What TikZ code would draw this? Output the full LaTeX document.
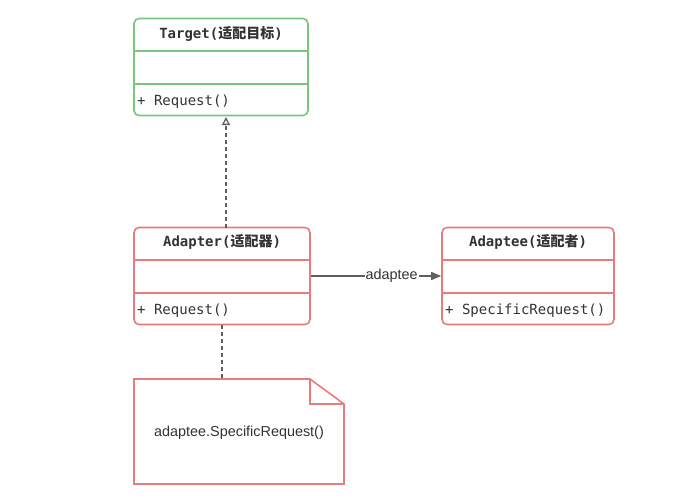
\documentclass[tikz,border=0pt]{standalone}
\usepackage{fontspec}
\setmainfont{Liberation Sans}
\setmonofont{DejaVu Sans Mono}
\newfontfamily\cjk{Noto Sans CJK SC}
\usetikzlibrary{arrows.meta}
\definecolor{umlgreen}{RGB}{122,198,125}
\definecolor{umlred}{RGB}{232,124,124}
\definecolor{inkgray}{RGB}{51,51,51}
\definecolor{linkgray}{RGB}{95,95,95}
\begin{document}
\begin{tikzpicture}[x=1pt,y=-1pt,
  classbox/.style={draw, line width=1.6pt, rounded corners=5pt, minimum width=#1, minimum height=97pt, inner sep=0pt, fill=white},
  title/.style={font=\ttfamily\bfseries\fontsize{14}{16}\selectfont, text=inkgray, anchor=center},
  member/.style={font=\ttfamily\fontsize{14}{16}\selectfont, text=inkgray, anchor=west, inner sep=0pt},
  divider/.style={line width=1.6pt},
  plain/.style={font=\fontsize{14.4}{16}\selectfont, text=inkgray}]
\useasboundingbox (0,0) rectangle (691,501);

% Target
\node[classbox=174pt, draw=umlgreen] (target) at (221,67) {};
\draw[divider, umlgreen] (134,51) -- (308,51);
\draw[divider, umlgreen] (134,84) -- (308,84);
\node[title] (targetname) at (221,34) {Target({\cjk\bfseries 适配目标})};
\node[member] (targetop) at (137,101.5) {+ Request()};

% Adapter
\node[classbox=176pt, draw=umlred] (adapter) at (222,276) {};
\draw[divider, umlred] (134,260) -- (310,260);
\draw[divider, umlred] (134,293) -- (310,293);
\node[title] (adaptername) at (222,242) {Adapter({\cjk\bfseries 适配器})};
\node[member] (adapterop) at (137,310.5) {+ Request()};

% Adaptee
\node[classbox=172pt, draw=umlred] (adaptee) at (528,276) {};
\draw[divider, umlred] (442,260) -- (614,260);
\draw[divider, umlred] (442,293) -- (614,293);
\node[title] (adapteename) at (528,242) {Adaptee({\cjk\bfseries 适配者})};
\node[member] (adapteeop) at (445,310.5) {+ SpecificRequest()};

% Note
\draw[umlred, line width=1.6pt, fill=white]
  (134,379) -- (310,379) -- (344,404) -- (344,484) -- (134,484) -- cycle;
\draw[umlred, line width=1.6pt] (310,379) -- (310,404) -- (344,404);
\coordinate (notetop) at (222,379);
\node[plain] (notetext) at (239,433) {adaptee.SpecificRequest()};

% Realization
\coordinate (realstart) at (226,228);
\coordinate (realend) at (226,117);
\draw[linkgray, line width=1.5pt, dash pattern=on 4pt off 3pt,
  -{Triangle[open, length=8pt, width=8pt, line width=1.3pt]}] (realstart) -- (realend);

% Association
\draw[linkgray, line width=1.5pt, -{Triangle[length=10pt, width=8pt]}]
  (adapter.east) -- node[plain, pos=0.62, fill=white, inner sep=1pt] (assoclabel) {adaptee} (adaptee.west);

% Note anchor
\draw[linkgray, line width=1.5pt, dash pattern=on 4pt off 3pt] (adapter.south) -- (notetop);
\end{tikzpicture}
\end{document}
